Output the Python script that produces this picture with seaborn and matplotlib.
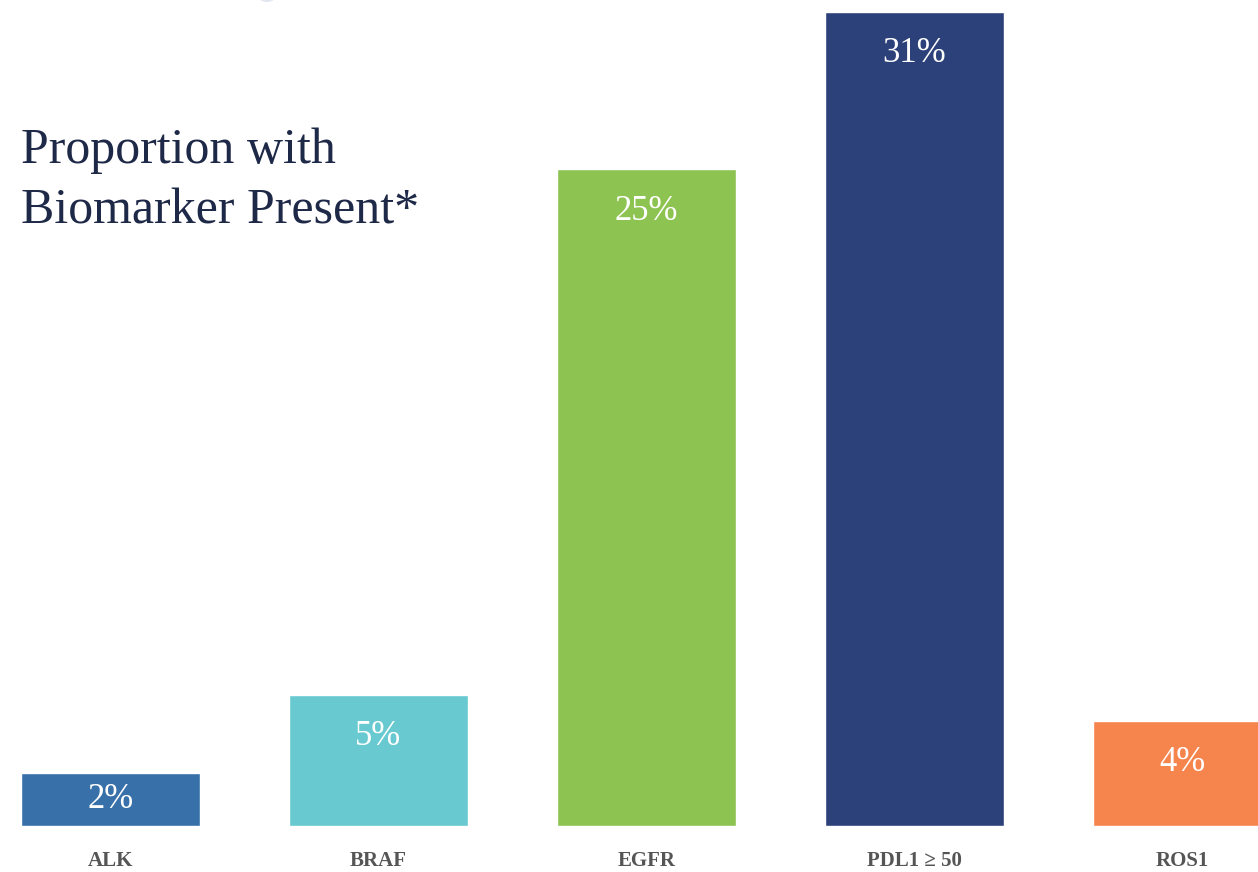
import matplotlib
matplotlib.use("Agg")
import matplotlib.pyplot as plt
import seaborn as sns
import pandas as pd
from matplotlib.patches import Ellipse

markers = ["ALK", "BRAF", "EGFR", "PDL1 ≥ 50", "ROS1"]
pct = [2, 5, 25, 31, 4]
colors = ["#3870AA", "#68C9D1", "#8DC351", "#2C417A", "#F6844D"]

df = pd.DataFrame({"marker": markers, "pct": pct})

sns.set_style("white")
fig = plt.figure(figsize=(12.58, 8.72), dpi=100)
ax = fig.add_axes([0, 46 / 872, 1, 826 / 872])

sns.barplot(data=df, x="marker", y="pct", hue="marker", palette=colors,
            width=0.668, legend=False, ax=ax, saturation=1)

ax.set_xlim(-0.412, 4.282)
ax.set_ylim(0, 31.45)
sns.despine(ax=ax, left=True, bottom=True)
ax.set_yticks([])
ax.set_xlabel("")
ax.set_ylabel("")
ax.tick_params(axis="x", length=0, pad=18)
for lbl in ax.get_xticklabels():
    lbl.set_fontfamily("Liberation Serif")
    lbl.set_fontweight("bold")
    lbl.set_fontsize(15)
    lbl.set_color("#555555")

# value labels inside bars
off = 42 / 26.26
for i, v in enumerate(pct):
    y = max(v - off, v / 2)
    ax.text(i, y, f"{v}%", ha="center", va="center", color="white",
            fontsize=25, family="Liberation Serif")

fig.text(21 / 1258, 1 - 181 / 872, "Proportion with\nBiomarker Present*",
         ha="left", va="center", fontsize=36, color="#1E2847",
         family="Liberation Serif", linespacing=1.4)

# faint decorative arc at top edge
fig.add_artist(Ellipse((267 / 1258, 1 + 6 / 872), 20 / 1258, 16 / 872,
                       transform=fig.transFigure, color="#E1E7F0", lw=0))

fig.savefig("out.png", dpi=100)
